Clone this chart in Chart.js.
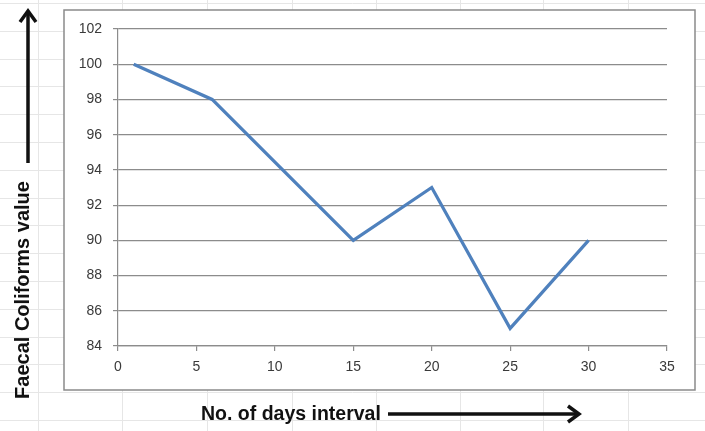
<!DOCTYPE html>
<html>
<head>
<meta charset="utf-8">
<script src="https://cdn.jsdelivr.net/npm/chart.js@4/dist/chart.umd.min.js"></script>
<style>
    html, body { margin: 0; padding: 0; background: #fff; }
    #wrap { width: 705px; height: 431px; position: relative; }
</style>
</head>
<body>
<div id="wrap"><canvas id="chart" width="705" height="431"></canvas></div>
<script>
// ============ Data ============
const days = [1, 6, 15, 20, 25, 30];
const faecalColiforms = [100, 98, 90, 93, 85, 90];
const xTicks = [0, 5, 10, 15, 20, 25, 30, 35];
const yTicks = [84, 86, 88, 90, 92, 94, 96, 98, 100, 102];

const yTitle = 'Faecal Coliforms value';
const xTitle = 'No. of days interval';

// ============ Sheet backdrop, frame, titles and arrows ============
function _arrowHead(ctx, x, y, dir) {
    // dir: 'up' or 'right'
    ctx.beginPath();
    if (dir === 'up') {
        ctx.moveTo(x - 8, y + 11);
        ctx.lineTo(x, y);
        ctx.lineTo(x + 8, y + 11);
    } else {
        ctx.moveTo(x - 11, y - 8);
        ctx.lineTo(x, y);
        ctx.lineTo(x - 11, y + 8);
    }
    ctx.stroke();
}

const sheetPlugin = {
    id: 'sheet',
    beforeDraw(chart) {
        const ctx = chart.ctx;
        ctx.save();
        ctx.fillStyle = '#fff';
        ctx.fillRect(0, 0, chart.width, chart.height);

        // faint spreadsheet cell lines
        ctx.strokeStyle = '#e6e6e6';
        ctx.lineWidth = 1;
        const cols = [38, 122, 207, 292, 376, 460, 543, 628, 712];
        cols.forEach(x => {
            ctx.beginPath(); ctx.moveTo(x + 0.5, 0); ctx.lineTo(x + 0.5, chart.height); ctx.stroke();
        });
        for (let y = 3; y < chart.height; y += 27.8) {
            ctx.beginPath(); ctx.moveTo(0, Math.round(y) + 0.5); ctx.lineTo(chart.width, Math.round(y) + 0.5); ctx.stroke();
        }

        // chart frame
        ctx.fillStyle = '#fff';
        ctx.fillRect(64, 10, 631, 380);
        ctx.strokeStyle = '#8a8a8a';
        ctx.lineWidth = 1.5;
        ctx.strokeRect(64, 10, 631, 380);
        ctx.restore();
    },
    afterDraw(chart) {
        const ctx = chart.ctx;
        ctx.save();
        ctx.fillStyle = '#111';
        ctx.strokeStyle = '#111';
        ctx.font = 'bold 20px "Liberation Sans", Arial, sans-serif';

        // y title, rotated
        ctx.save();
        ctx.translate(23, 290);
        ctx.rotate(-Math.PI / 2);
        ctx.textAlign = 'center';
        ctx.textBaseline = 'middle';
        ctx.fillText(yTitle, 0, 0);
        ctx.restore();

        // x title
        ctx.font = 'bold 19.5px "Liberation Sans", Arial, sans-serif';
        ctx.textAlign = 'left';
        ctx.textBaseline = 'middle';
        ctx.fillText(xTitle, 201, 415);

        // arrows
        ctx.lineWidth = 3.5;
        ctx.lineCap = 'butt';
        ctx.beginPath(); ctx.moveTo(28, 163); ctx.lineTo(28, 12); ctx.stroke();
        _arrowHead(ctx, 28, 11, 'up');
        ctx.beginPath(); ctx.moveTo(388, 414); ctx.lineTo(578, 414); ctx.stroke();
        _arrowHead(ctx, 579, 414, 'right');
        ctx.restore();
    }
};

// ============ Chart ============
const tickFont = { family: '"Liberation Sans", Arial, sans-serif', size: 14 };
const gridColor = '#8c8c8c';

new Chart(document.getElementById('chart'), {
    type: 'line',
    data: {
        datasets: [{
            data: days.map((d, i) => ({ x: d, y: faecalColiforms[i] })),
            borderColor: '#4F81BD',
            borderWidth: 3.2,
            pointRadius: 0,
            tension: 0,
            fill: false
        }]
    },
    options: {
        responsive: false,
        animation: false,
        events: [],
        layout: { padding: { left: 60, right: 38, top: 29, bottom: 45 } },
        plugins: { legend: { display: false }, tooltip: { enabled: false } },
        scales: {
            x: {
                type: 'linear',
                min: 0,
                max: 35,
                afterBuildTicks(scale) { scale.ticks = xTicks.map(v => ({ value: v })); },
                afterFit(scale) { scale.height = 40; },
                grid: { drawOnChartArea: false, drawTicks: true, tickLength: 5, color: gridColor, lineWidth: 1.2 },
                border: { color: gridColor, width: 1.2 },
                ticks: { font: tickFont, color: '#3a3a3a', padding: 8, maxRotation: 0 }
            },
            y: {
                min: 84,
                max: 102,
                afterBuildTicks(scale) { scale.ticks = yTicks.map(v => ({ value: v })); },
                afterFit(scale) { scale.width = 58; },
                grid: { drawTicks: true, tickLength: 5, color: gridColor, lineWidth: 1.2 },
                border: { color: gridColor, width: 1.2 },
                ticks: { font: tickFont, color: '#3a3a3a', padding: 11 }
            }
        }
    },
    plugins: [sheetPlugin]
});
</script>
</body>
</html>
